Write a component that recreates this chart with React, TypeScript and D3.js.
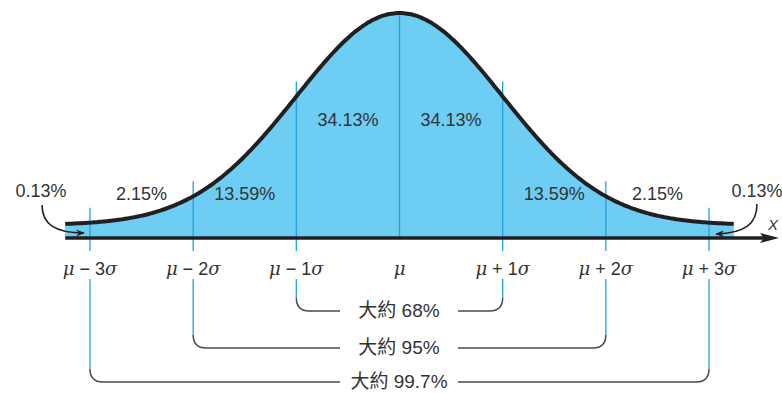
import * as d3 from "d3";

// sigma positions and their labels
const sigmaSteps = [-3, -2, -1, 0, 1, 2, 3];
const tickLabels = ["μ − 3σ", "μ − 2σ", "μ − 1σ", "μ", "μ + 1σ", "μ + 2σ", "μ + 3σ"];

// area between consecutive sigma steps
const regionLabels = ["2.15%", "13.59%", "34.13%", "34.13%", "13.59%", "2.15%"];
const tailLabel = "0.13%";

// brackets under the axis
const bracketSigma = [1, 2, 3];
const bracketLabels = ["大約 68%", "大約 95%", "大約 99.7%"];

const W = 782;
const H = 393;
const axisY = 238;
const fontFamily = "'Liberation Sans', Arial, 'Noto Sans CJK TC', sans-serif";

const density = (z: number) => Math.exp((-z * z) / 2) / Math.sqrt(2 * Math.PI);

export default function App() {
  const x = d3.scaleLinear().domain([-3, 3]).range([90, 709]);
  const y = d3.scaleLinear().domain([0, density(0)]).range([225, 13]);

  const zs = d3.range(-3.24, 3.2401, 0.02);
  const area = d3
    .area<number>()
    .x((z) => x(z))
    .y0(axisY)
    .y1((z) => y(density(z)))
    .curve(d3.curveBasis);
  const line = d3
    .line<number>()
    .x((z) => x(z))
    .y((z) => y(density(z)))
    .curve(d3.curveBasis);

  const blue = "#22a3dc";
  const dark = "#231f20";
  const grey = "#4a4a4a";
  const textCol = "#333";

  const bracketY = [311, 348, 382];
  const gapL = 340;
  const gapR = 458;
  const r = 13;

  const renderTick = (s: string) =>
    s.split("").map((c, i) =>
      c === "μ" || c === "σ" ? (
        <tspan key={i} fontStyle="italic" fontFamily="'DejaVu Serif', serif">
          {c}
        </tspan>
      ) : (
        <tspan key={i}>{c}</tspan>
      )
    );

  return (
    <svg
      width={W}
      height={H}
      style={{ position: "absolute", left: 0, top: 0, background: "#fff" }}
      fontFamily={fontFamily}
    >
      <defs>
        <marker id="tipR" viewBox="0 0 10 10" refX="9" refY="5" markerWidth="5.5" markerHeight="5.5" orient="auto">
          <path d="M0,1 L10,5 L0,9 L3,5 Z" fill={dark} />
        </marker>
      </defs>

      {/* filled curve */}
      <path d={area(zs) ?? ""} fill="#6dcdf3" />

      {/* sigma lines above axis */}
      {sigmaSteps.map((k) => {
        const yc = y(density(k));
        const top = k === 0 ? yc : yc - 15;
        return (
          <line key={"v" + k} x1={x(k)} x2={x(k)} y1={top} y2={k === 0 ? axisY : 251} stroke={blue} strokeWidth={1.3} />
        );
      })}

      <path d={line(zs) ?? ""} fill="none" stroke={dark} strokeWidth={4} />

      {/* axis */}
      <line x1={x(-3.24)} x2={768} y1={axisY} y2={axisY} stroke={dark} strokeWidth={3.5} />
      <path d={`M779,${axisY} L760,${axisY - 5} L764,${axisY} L760,${axisY + 5} Z`} fill={dark} />
      <text x={773} y={230} fontSize={15} fontStyle="italic" fill={textCol} textAnchor="middle">
        X
      </text>

      {/* tick labels */}
      {sigmaSteps.map((k, i) => (
        <text key={"t" + k} x={x(k)} y={275} fontSize={18} fill={textCol} textAnchor="middle">
          {renderTick(tickLabels[i])}
        </text>
      ))}

      {/* region percentages */}
      {regionLabels.map((lab, i) => {
        const k = sigmaSteps[i] + 0.5;
        return (
          <text
            key={"r" + i}
            x={x(k)}
            y={Math.abs(k) < 1 ? 126 : 200}
            fontSize={18}
            fill={textCol}
            textAnchor="middle"
          >
            {lab}
          </text>
        );
      })}

      {/* tails */}
      <text x={41} y={197} fontSize={18} fill={textCol} textAnchor="middle">
        {tailLabel}
      </text>
      <text x={757} y={197} fontSize={18} fill={textCol} textAnchor="middle">
        {tailLabel}
      </text>
      <path d="M42,205 C42,224 55,233 84,233" fill="none" stroke={dark} strokeWidth={1.6} markerEnd="url(#tipR)" />
      <path d="M757,204 C757,224 745,233 716,234" fill="none" stroke={dark} strokeWidth={1.6} markerEnd="url(#tipR)" />

      {/* brackets */}
      {bracketSigma.map((k, i) => {
        const yb = bracketY[i];
        const xl = x(-k);
        const xr = x(k);
        return (
          <g key={"b" + k}>
            <line x1={xl} x2={xl} y1={279} y2={yb - r} stroke={blue} strokeWidth={1.3} />
            <line x1={xr} x2={xr} y1={279} y2={yb - r} stroke={blue} strokeWidth={1.3} />
            <path
              d={`M${xl},${yb - r} Q${xl},${yb} ${xl + r},${yb} L${gapL},${yb}`}
              fill="none"
              stroke={grey}
              strokeWidth={1.5}
            />
            <path
              d={`M${xr},${yb - r} Q${xr},${yb} ${xr - r},${yb} L${gapR},${yb}`}
              fill="none"
              stroke={grey}
              strokeWidth={1.5}
            />
            <text x={399} y={yb + 6} fontSize={19} fill={textCol} textAnchor="middle">
              {bracketLabels[i]}
            </text>
          </g>
        );
      })}
    </svg>
  );
}
